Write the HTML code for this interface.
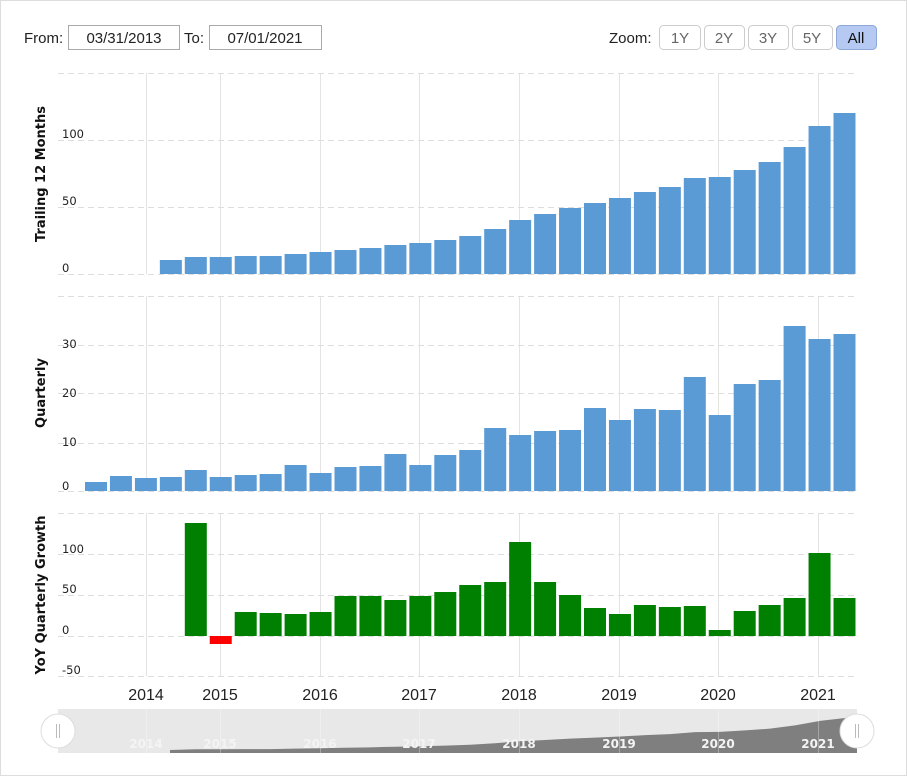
<!DOCTYPE html>
<html><head><meta charset="utf-8"><style>
body{margin:0;background:#fff;}
svg{display:block;font-family:"Liberation Sans",sans-serif;}
</style></head><body>
<svg id="s" width="907" height="776" xmlns="http://www.w3.org/2000/svg">
<rect x="0.5" y="0.5" width="906" height="775" fill="#fff" stroke="#ddd"/>
<text x="24" y="43" font-size="15" fill="#222">From:</text>
<rect x="68.5" y="25.5" width="111" height="24" fill="#fff" stroke="#aaa"/>
<text x="124" y="43" font-size="15" text-anchor="middle" fill="#222">03/31/2013</text>
<text x="184" y="43" font-size="15" fill="#222">To:</text>
<rect x="209.5" y="25.5" width="112" height="24" fill="#fff" stroke="#aaa"/>
<text x="265" y="43" font-size="15" text-anchor="middle" fill="#222">07/01/2021</text>
<text x="609" y="43" font-size="15" fill="#222">Zoom:</text>
<g font-size="15" text-anchor="middle">
<rect x="659.5" y="25.5" width="41" height="24" rx="4" fill="#fff" stroke="#ccc"/><text x="680" y="43" fill="#666">1Y</text>
<rect x="704.5" y="25.5" width="40" height="24" rx="4" fill="#fff" stroke="#ccc"/><text x="724" y="43" fill="#666">2Y</text>
<rect x="748.5" y="25.5" width="40" height="24" rx="4" fill="#fff" stroke="#ccc"/><text x="768" y="43" fill="#666">3Y</text>
<rect x="792.5" y="25.5" width="40" height="24" rx="4" fill="#fff" stroke="#ccc"/><text x="812" y="43" fill="#666">5Y</text>
<rect x="836.5" y="25.5" width="40" height="24" rx="4" fill="#b5c9f2" stroke="#8ea8d8"/><text x="856" y="43" fill="#111">All</text>
</g>
<g id="g"></g>
</svg>
<script>
var g=document.getElementById('g'),h='';
var DV=' font-family="DejaVu Sans, sans-serif"';
function L(x1,y1,x2,y2,c,d){h+='<line x1="'+x1+'" y1="'+y1+'" x2="'+x2+'" y2="'+y2+'" stroke="'+c+'" stroke-width="1"'+(d?' stroke-dasharray="6,4"':'')+'/>';}
function T(x,y,t,s,a,w,c,extra){h+='<text x="'+x+'" y="'+y+'" font-size="'+s+'" text-anchor="'+(a||'start')+'"'+(w?' font-weight="bold"':'')+' fill="'+(c||'#222')+'"'+(extra||'')+'>'+t+'</text>';}
var yrs=[[146,2014],[220,2015],[320,2016],[419,2017],[519,2018],[619,2019],[718,2020],[818,2021]];
var panels=[[73,274],[296,491],[513,676]];
panels.forEach(function(p){yrs.forEach(function(y){L(y[0]+.5,p[0],y[0]+.5,p[1],'#e3e3e3');});});
[73,140,207,274].forEach(function(v){L(58,v+.5,857,v+.5,'#ddd',1);});
[296,345,393,443,491].forEach(function(v){L(58,v+.5,857,v+.5,'#ddd',1);});
[513,554,595,636,676].forEach(function(v){L(58,v+.5,857,v+.5,'#ddd',1);});
T(62,138,'100',11.5,0,0,'#222',DV);T(62,205,'50',11.5,0,0,'#222',DV);T(62,272,'0',11.5,0,0,'#222',DV);
T(62,348,'30',11.5,0,0,'#222',DV);T(62,397,'20',11.5,0,0,'#222',DV);T(62,446,'10',11.5,0,0,'#222',DV);T(62,490,'0',11.5,0,0,'#222',DV);
T(62,553,'100',11.5,0,0,'#222',DV);T(62,593,'50',11.5,0,0,'#222',DV);T(62,634,'0',11.5,0,0,'#222',DV);T(62,674,'-50',11.5,0,0,'#222',DV);
function X(i){return 85+i*24.95;}
var tr=[260,257,257,256,256,254,252,250,248,245,243,240,236,229,220,214,208,203,198,192,187,178,177,170,162,147,126,113];
tr.forEach(function(t,i){h+='<rect x="'+X(i+3)+'" y="'+t+'" width="22" height="'+(274-t)+'" fill="#5b9bd5"/>';});
var q=[482,476,478,477,470,477,475,474,465,473,467,466,454,465,455,450,428,435,431,430,408,420,409,410,377,415,384,380,326,339,334];
q.forEach(function(t,i){h+='<rect x="'+X(i)+'" y="'+t+'" width="22" height="'+(491-t)+'" fill="#5b9bd5"/>';});
var yy=[523,644,612,613,614,612,596,596,600,596,592,585,582,542,582,595,608,614,605,607,606,630,611,605,598,553,598];
yy.forEach(function(t,i){var x=X(i+4);if(t>636)h+='<rect x="'+x+'" y="636" width="22" height="'+(t-636)+'" fill="#f00"/>';else h+='<rect x="'+x+'" y="'+t+'" width="22" height="'+(636-t)+'" fill="#008000"/>';});
T(45,174,'Trailing 12 Months',13,'middle',1,'#111',DV+' transform="rotate(-90 45 174)"');
T(45,393,'Quarterly',13,'middle',1,'#111',DV+' transform="rotate(-90 45 393)"');
T(45,595,'YoY Quarterly Growth',13,'middle',1,'#111',DV+' transform="rotate(-90 45 595)"');
yrs.forEach(function(y){T(y[0],700,y[1],16,'middle',0,'#222');});
h+='<rect x="58" y="709" width="799" height="44" fill="#e8e8e8"/>';
var pts='170,753 ';tr.forEach(function(t,i){var x=170+i*25;var yv=753-(274-t)*35/161;pts+=x+','+yv+' ';});
pts+='845,718 857,716 857,753';
h+='<polygon points="'+pts+'" fill="#7f7f7f"/>';
yrs.forEach(function(y){L(y[0]+.5,709,y[0]+.5,753,'rgba(255,255,255,0.3)');T(y[0],748,y[1],12,'middle',1,'#f4f4f4',DV);});
[58,857].forEach(function(x){h+='<circle cx="'+x+'" cy="731" r="17" fill="#fff" stroke="#ddd"/>';L(x-1.5,724,x-1.5,738,'#bbb');L(x+1.5,724,x+1.5,738,'#bbb');});
g.innerHTML=h;
</script>
</body></html>
